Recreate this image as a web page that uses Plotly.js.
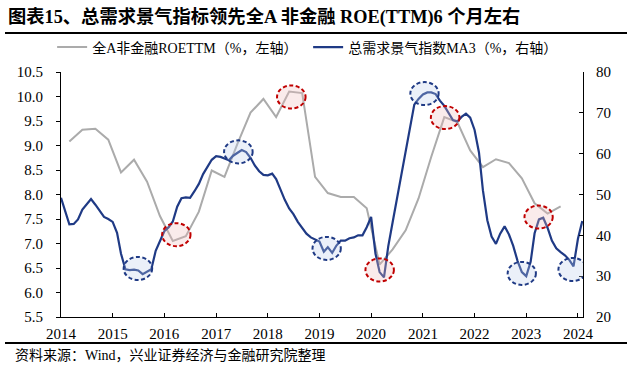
<!DOCTYPE html>
<html>
<head>
<meta charset="utf-8">
<script src="https://cdn.plot.ly/plotly-3.0.1.min.js"></script>
<style>
html,body{margin:0;padding:0;background:#fff;}
#wrap{position:relative;width:633px;height:369px;}
#chart{position:absolute;left:0;top:0;width:633px;height:369px;}
.rule{position:absolute;left:5px;width:622px;height:2px;background:#000;z-index:10;pointer-events:none;}
</style>
</head>
<body>
<div id="wrap">
<div id="chart"></div>
<div class="rule" style="top:32px"></div>
<div class="rule" style="top:342px"></div>
</div>
<script>
// ---- Data ----
const titleText = '图表15、总需求景气指标领先全A 非金融 ROE(TTM)6 个月左右';
const sourceText = '资料来源：Wind，兴业证券经济与金融研究院整理';
const roeName = '全A非金融ROETTM（%，左轴）';
const demandName = '总需求景气指数MA3（%，右轴）';

// 全A非金融 ROE(TTM), quarterly from 2014-03 to 2023-09 (left axis, %)
const roeStart = [2014, 3];
const roeValues = [
  9.08, 9.32, 9.34, 9.12,
  8.45, 8.71, 8.26, 7.56,
  7.05, 7.15, 7.65, 8.49,
  8.36, 9.04, 9.67, 9.95,
  9.58, 10.10, 10.07, 8.36,
  8.03, 7.95, 7.95, 7.72,
  6.57, 6.88, 7.27, 7.92,
  8.77, 9.58, 9.48, 8.90,
  8.56, 8.72, 8.64, 8.33,
  7.82, 7.61, 7.76
];

// 总需求景气指数 MA3, monthly from 2014-01 to 2024-02 (right axis, %)
const demandStart = [2014, 1];
const demandValues = [
  49.2, 45.5, 42.7, 42.8, 43.9, 46.3, 47.7, 48.9, 47.5, 46.1, 44.5, 44.0,   // 2014
  43.3, 40.6, 35.5, 31.7, 31.5, 31.6, 31.4, 30.5, 31.2, 31.7, 36.2, 38.8,   // 2015
  41.0, 42.0, 43.4, 47.0, 49.1, 49.3, 49.2, 50.8, 52.6, 55.0, 56.8, 58.5,   // 2016
  59.4, 59.2, 58.8, 58.4, 59.5, 60.3, 60.9, 60.4, 59.0, 57.1, 55.7, 54.8,   // 2017
  54.7, 55.1, 53.8, 51.2, 48.7, 46.6, 45.2, 43.3, 41.9, 40.4, 39.5, 39.0,   // 2018
  38.5, 36.0, 37.1, 35.7, 37.5, 38.7, 38.7, 39.3, 39.5, 40.0, 40.0, 42.0,   // 2019
  44.5, 35.5, 31.0, 29.7, 37.3, 43.2, 49.0, 54.6, 60.5, 66.0, 72.0, 73.4,   // 2020
  74.5, 75.0, 75.0, 74.6, 73.0, 71.7, 69.9, 68.2, 67.9, 69.0, 69.8, 68.8,   // 2021
  65.8, 60.3, 51.0, 43.7, 39.7, 37.9, 40.4, 42.2, 40.2, 37.4, 33.7, 31.0,   // 2022
  30.0, 33.5, 40.5, 43.9, 44.3, 41.8, 38.7, 36.8, 35.9, 35.1, 34.0, 32.4,   // 2023
  39.1, 43.5                                                                // 2024
];

// Highlight ellipses: [month index from 2014-01, value on left axis]
const blueHighlights = [[17.9, 6.49], [41.2, 8.87], [61.7, 6.90], [84.4, 10.06], [107.0, 6.39], [118.8, 6.47]];
const redHighlights  = [[26.8, 7.18], [53.5, 9.99], [74.0, 6.46], [89.2, 9.57], [110.9, 7.54]];

// ---- helpers ----
function monthDates(start, n, step) {
  const out = [];
  for (let i = 0; i < n; i++) {
    const t = (start[0] * 12 + (start[1] - 1)) + i * step;
    const y = Math.floor(t / 12), m = t % 12 + 1;
    out.push(y + '-' + String(m).padStart(2, '0') + '-01');
  }
  return out;
}
function monthToDate(mi) {
  const base = Math.floor(mi);
  const frac = mi - base;
  const y = 2014 + Math.floor(base / 12), m = base % 12;
  const d0 = Date.UTC(y, m, 1), d1 = Date.UTC(y, m + 1, 1);
  const d = new Date(d0 + frac * (d1 - d0));
  return d.toISOString().replace('T', ' ').slice(0, 19);
}

const roeDates = monthDates(roeStart, roeValues.length, 3);
const demandDates = monthDates(demandStart, demandValues.length, 1);

const hw = 3.3, hh = 0.235;
function ellipse(c, line, fill) {
  return {
    type: 'circle', xref: 'x', yref: 'y', layer: 'above',
    x0: monthToDate(c[0] - hw), x1: monthToDate(c[0] + hw),
    y0: c[1] - hh, y1: c[1] + hh,
    line: {color: line, width: 2, dash: '4px,2.5px'},
    fillcolor: fill
  };
}

const blueColor = '#1f3a85';
const grayColor = '#ababab';
const serif = 'Liberation Serif, "Noto Sans CJK SC", serif';

const shapes = [];
blueHighlights.forEach(c => shapes.push(ellipse(c, blueColor, 'rgba(190,205,235,0.30)')));
redHighlights.forEach(c => shapes.push(ellipse(c, '#c00000', 'rgba(240,190,190,0.30)')));

const traces = [
  {x: roeDates, y: roeValues, name: roeName, type: 'scatter', mode: 'lines',
   line: {color: grayColor, width: 2}, yaxis: 'y'},
  {x: demandDates, y: demandValues, name: demandName, type: 'scatter', mode: 'lines',
   line: {color: blueColor, width: 2.2}, yaxis: 'y2'}
];

const layout = {
  width: 633, height: 369,
  margin: {l: 61, r: 50, t: 72, b: 52, pad: 0},
  paper_bgcolor: '#fff', plot_bgcolor: '#fff',
  title: {text: '<b>' + titleText + '</b>', xref: 'container', yref: 'container',
          x: 8 / 633, xanchor: 'left', y: 1 - 17 / 369, yanchor: 'middle',
          font: {family: serif, size: 18.3, color: '#000'}},
  showlegend: true,
  legend: {orientation: 'h', x: -0.017, xanchor: 'left', y: 1.1, yanchor: 'middle',
           font: {family: serif, size: 14, color: '#000'}, bgcolor: 'rgba(0,0,0,0)',
           entrywidth: 211, entrywidthmode: 'pixels', itemwidth: 30},
  xaxis: {type: 'date', range: ['2014-01-01', '2024-02-06'], tick0: '2014-01-01', dtick: 'M12',
          tickformat: '%Y', ticks: 'inside', ticklen: 4, tickcolor: '#000',
          showline: true, linecolor: '#000', linewidth: 1, showgrid: false, zeroline: false,
          ticklabelstandoff: 3, tickfont: {family: serif, size: 15, color: '#000'}},
  yaxis: {range: [5.5, 10.5], dtick: 0.5, tick0: 5.5, tickformat: '.1f', ticks: 'outside', ticklen: 4,
          tickcolor: '#000', showline: true, linecolor: '#000', linewidth: 1, showgrid: false,
          zeroline: false, ticklabelstandoff: 10, tickfont: {family: serif, size: 15, color: '#000'}},
  yaxis2: {range: [20, 80], dtick: 10, tick0: 20, overlaying: 'y', side: 'right', ticks: 'inside', ticklen: 4,
           tickcolor: '#000', showline: true, linecolor: '#000', linewidth: 1, showgrid: false,
           zeroline: false, ticklabelstandoff: 9, tickfont: {family: serif, size: 15, color: '#000'}},
  shapes: shapes,
  annotations: [
    {text: sourceText, xref: 'paper', yref: 'paper', x: (13 - 61) / 522, xanchor: 'left',
     y: -(355 - 317) / 245, yanchor: 'middle', showarrow: false,
     font: {family: serif, size: 14, color: '#000'}}
  ]
};

Plotly.newPlot('chart', traces, layout, {displayModeBar: false, staticPlot: true});
</script>
</body>
</html>
